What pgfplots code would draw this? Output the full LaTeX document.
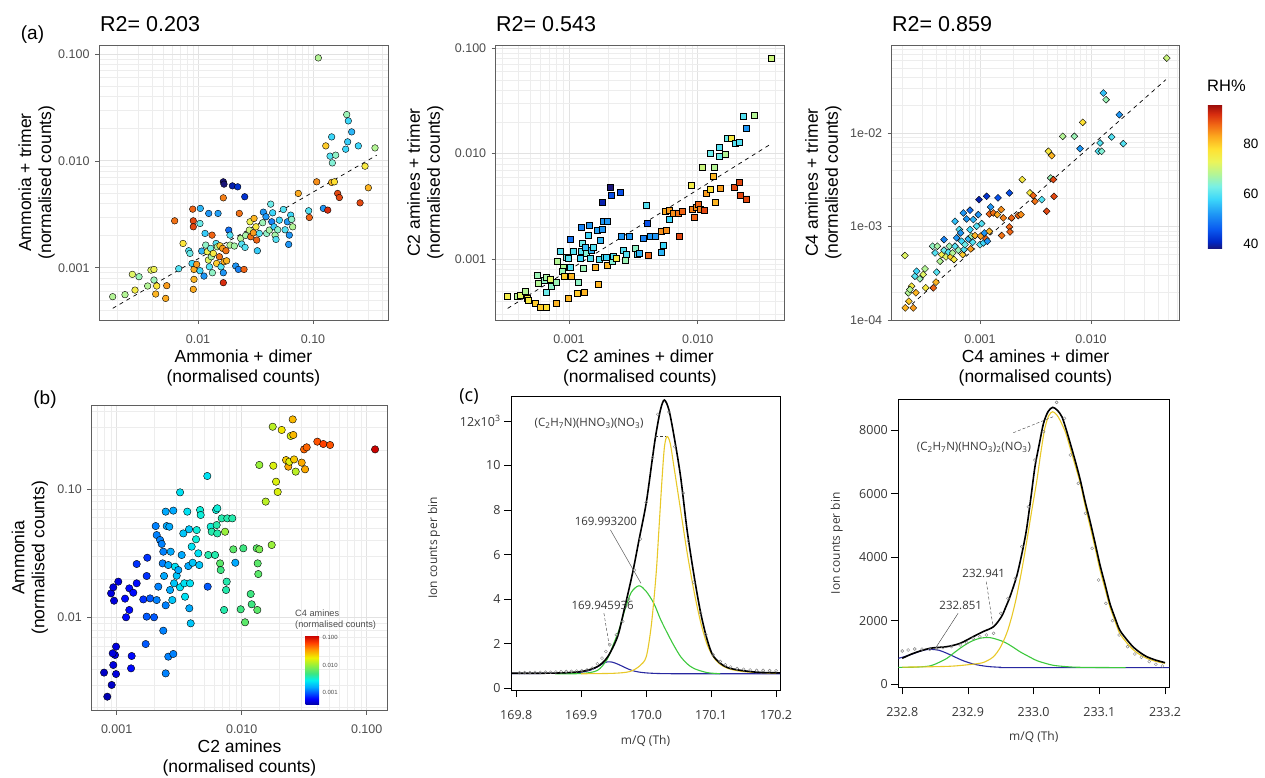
\documentclass[border=0pt]{standalone}
\usepackage{pgfplots}
\pgfplotsset{compat=1.18}
\usepackage{fontspec}
\setmainfont{Liberation Sans}
\newfontfamily\cfont{Open Sans}
\usetikzlibrary{calc}
\definecolor{ggborder}{RGB}{95,95,95}
\definecolor{gggrid}{RGB}{226,226,226}
\definecolor{ggminor}{RGB}{237,237,237}
\definecolor{ggtick}{RGB}{77,77,77}
\definecolor{ctext}{RGB}{55,55,55}
\definecolor{cyellow}{RGB}{232,200,40}
\definecolor{cgreen}{RGB}{60,200,60}
\definecolor{cblue}{RGB}{40,40,160}
\tikzset{ann/.style={font=\cfont\fontsize{11.5}{13}\selectfont, text=ctext, inner sep=0pt}}
\pgfplotsset{
 colormap={rhmap}{rgb255(0pt)=(25,20,120) rgb255(3pt)=(0,40,200) rgb255(8pt)=(10,90,240) rgb255(14pt)=(30,150,245) rgb255(20pt)=(60,215,250) rgb255(25pt)=(120,240,230) rgb255(30pt)=(180,245,150) rgb255(35pt)=(235,245,90) rgb255(40pt)=(255,225,50) rgb255(45pt)=(252,170,30) rgb255(50pt)=(240,100,20) rgb255(54pt)=(215,45,15) rgb255(58pt)=(150,10,10)},
 colormap={jetb}{rgb255(0pt)=(0,0,170) rgb255(8pt)=(0,0,255) rgb255(25pt)=(0,170,255) rgb255(35pt)=(0,240,240) rgb255(45pt)=(60,230,130) rgb255(57pt)=(150,240,60) rgb255(68pt)=(240,240,0) rgb255(80pt)=(255,150,0) rgb255(90pt)=(255,60,0) rgb255(100pt)=(200,0,0)},
 gg/.style={scale only axis, anchor=south west,
  axis line style={draw=ggborder, line width=0.6pt},
  grid=both,
  major grid style={draw=gggrid, line width=0.7pt},
  minor grid style={draw=ggminor, line width=0.45pt},
  tick align=outside, major tick length=4pt, minor tick length=0pt,
  tick style={draw=ggborder, line width=0.6pt},
  xtick pos=left, ytick pos=left,
  minor xtick={-4.699,-4.523,-4.398,-4.301,-4.222,-4.155,-4.097,-4.046,-3.699,-3.523,-3.398,-3.301,-3.222,-3.155,-3.097,-3.046,-2.699,-2.523,-2.398,-2.301,-2.222,-2.155,-2.097,-2.046,-1.699,-1.523,-1.398,-1.301,-1.222,-1.155,-1.097,-1.046,-0.699,-0.523,-0.398,-0.301,-0.222,-0.155,-0.097,-0.046},
  minor ytick={-4.699,-4.523,-4.398,-4.301,-4.222,-4.155,-4.097,-4.046,-3.699,-3.523,-3.398,-3.301,-3.222,-3.155,-3.097,-3.046,-2.699,-2.523,-2.398,-2.301,-2.222,-2.155,-2.097,-2.046,-1.699,-1.523,-1.398,-1.301,-1.222,-1.155,-1.097,-1.046,-0.699,-0.523,-0.398,-0.301,-0.222,-0.155,-0.097,-0.046},
  ticklabel style={font=\fontsize{12.5}{14}\selectfont, text=ggtick},
  xticklabel style={yshift=-7pt},
  yticklabel style={xshift=-2pt},
  label style={font=\fontsize{17.5}{20}\selectfont, align=center, inner sep=0pt},
  xlabel style={anchor=north},
  ylabel style={anchor=south},
  point meta min=38, point meta max=96, colormap name=rhmap},
 cp/.style={scale only axis, anchor=south west,
  axis line style={draw=black, line width=0.8pt},
  tick align=outside, major tick length=7pt,
  xtick pos=left, ytick pos=left,
  tick style={draw=black, line width=0.6pt},
  ticklabel style={font=\cfont\fontsize{12.5}{14}\selectfont, text=ctext},
  xticklabel style={yshift=-10pt},
  label style={font=\cfont\fontsize{12}{14}\selectfont, text=ctext, inner sep=0pt, anchor=center}},
 scat/.style={scatter, only marks, scatter src=explicit, scatter/use mapped color={draw=black, fill=mapped color}, mark options={line width=0.4pt}},
 cbar/.style={grid=none, scale only axis, xtick=\empty, axis line style={draw=none}, tick style={draw=none}}
}
\begin{document}
\begin{tikzpicture}
\path[use as bounding box] (0pt,0pt) rectangle (1265pt,778pt);

% ---------------- (a) Ammonia ----------------
\begin{axis}[gg, name=a1, at={(99pt,458pt)}, width=289pt, height=275pt,
 xmin=-2.861, xmax=-0.348, ymin=-3.489, ymax=-0.916,
 xtick={-2,-1}, xticklabels={0.01,0.10}, ytick={-3,-2,-1}, yticklabels={0.001,0.010,0.100},
 xlabel={Ammonia + dimer\\(normalised counts)}, ylabel={Ammonia + trimer\\(normalised counts)},
 xlabel style={at={(axis description cs:0.5,-0.1091)}},
 ylabel style={at={(axis description cs:-0.1522,0.5)}}]
\addplot[scat, mark=*, mark size=3.3pt] table[meta=c] {
x y c
-2.742 -3.271 68
-2.635 -3.252 68
-2.571 -3.062 72
-2.513 -3.084 66
-2.548 -3.209 75
-2.438 -3.171 68
-2.409 -3.022 72
-2.383 -3.016 74
-2.383 -3.115 66
-2.359 -3.171 77
-2.368 -3.246 82
-2.281 -3.287 83
-2.272 -3.168 84
-2.203 -2.561 87
-2.168 -3.009 60
-2.081 -2.841 60
-2.130 -2.773 77
-2.070 -2.866 62
-2.046 -2.452 88
-2.041 -2.561 90
-2.041 -2.617 90
-2.035 -3.016 83
-2.035 -3.109 82
-2.041 -3.202 83
-2.052 -2.960 58
-2.012 -2.969 84
-1.983 -3.028 58
-1.983 -2.586 62
-1.980 -2.445 55
-1.968 -2.844 55
-1.948 -3.078 52
-1.939 -2.679 57
-1.933 -2.788 65
-1.919 -2.850 74
-1.910 -2.928 72
-1.901 -2.991 60
-1.907 -2.492 52
-1.890 -2.819 63
-1.878 -2.695 88
-1.884 -2.897 67
-1.875 -3.047 65
-1.867 -2.866 76
-1.843 -2.773 60
-1.838 -2.960 80
-1.832 -2.804 68
-1.826 -2.492 53
-1.814 -2.897 87
-1.809 -2.794 80
-1.800 -2.991 60
-1.786 -2.819 84
-1.780 -2.346 86
-1.780 -2.196 38
-1.774 -2.218 38
-1.774 -2.944 83
-1.780 -3.047 52
-1.780 -3.140 92
-1.757 -2.841 87
-1.751 -2.935 82
-1.733 -2.648 48
-1.722 -2.695 60
-1.722 -2.788 68
-1.701 -2.234 40
-1.684 -2.797 67
-1.672 -2.984 52
-1.655 -2.243 42
-1.649 -3.016 50
-1.641 -2.492 87
-1.629 -2.726 68
-1.620 -2.779 60
-1.600 -3.016 88
-1.594 -2.336 42
-1.591 -2.810 60
-1.586 -2.698 67
-1.554 -2.648 70
-1.548 -2.570 74
-1.542 -2.710 87
-1.519 -2.673 84
-1.513 -2.539 82
-1.496 -2.617 76
-1.490 -2.741 88
-1.484 -2.841 57
-1.467 -2.679 60
-1.438 -2.579 66
-1.432 -2.480 52
-1.409 -2.523 52
-1.403 -2.679 65
-1.380 -2.648 67
-1.368 -2.405 62
-1.359 -2.570 50
-1.351 -2.486 58
-1.339 -2.617 57
-1.330 -2.695 67
-1.322 -2.735 60
-1.307 -2.645 65
-1.293 -2.555 58
-1.258 -2.455 60
-1.243 -2.645 60
-1.223 -2.570 52
-1.206 -2.695 52
-1.194 -2.508 58
-1.186 -2.548 65
-1.177 -2.617 68
-1.212 -2.782 52
-1.128 -2.305 83
-1.038 -2.467 60
-1.032 -2.530 88
-0.968 -2.196 85
-0.954 -1.037 68
-0.910 -2.445 52
-0.872 -2.461 92
-0.889 -1.860 80
-0.852 -1.956 60
-0.838 -1.776 58
-0.832 -2.019 64
-0.838 -2.202 82
-0.803 -1.947 65
-0.814 -2.196 78
-0.786 -2.305 90
-0.771 -2.343 90
-0.707 -1.567 66
-0.693 -1.626 58
-0.664 -1.729 55
-0.699 -1.822 57
-0.716 -1.891 58
-0.606 -1.860 58
-0.591 -2.393 90
-0.548 -2.050 76
-0.519 -2.252 82
-0.461 -1.879 68
};
\addplot[black, line width=0.7pt, dash pattern=on 4pt off 4pt] coordinates {(-2.742,-3.38) (-0.446,-1.947)};
\end{axis}

% ---------------- (a) C2 amines ----------------
\begin{axis}[gg, name=a2, at={(495.7pt,458pt)}, width=288.6pt, height=275pt,
 xmin=-3.57, xmax=-1.327, ymin=-3.578, ymax=-0.97,
 xtick={-3,-2}, xticklabels={0.001,0.010}, ytick={-3,-2,-1}, yticklabels={0.001,0.010,0.100},
 xlabel={C2 amines + dimer\\(normalised counts)}, ylabel={C2 amines + trimer\\(normalised counts)},
 xlabel style={at={(axis description cs:0.5,-0.1091)}},
 ylabel style={at={(axis description cs:-0.1802,0.5)}}]
\addplot[scat, mark=square*, mark size=3pt] table[meta=c] {
x y c
-3.477 -3.357 75
-3.402 -3.357 68
-3.381 -3.341 72
-3.337 -3.303 68
-3.329 -3.373 76
-3.316 -3.389 76
-3.264 -3.420 80
-3.225 -3.452 80
-3.179 -3.458 78
-3.101 -3.420 82
-3.251 -3.152 66
-3.238 -3.231 68
-3.194 -3.199 65
-3.174 -3.174 67
-3.148 -3.193 72
-3.181 -3.310 62
-3.135 -3.256 65
-3.096 -3.215 66
-3.091 -3.025 68
-3.044 -3.073 68
-3.057 -3.120 66
-3.039 -3.167 80
-3.070 -2.930 60
-3.023 -2.987 62
-3.010 -2.994 60
-3.005 -3.373 82
-2.992 -3.073 60
-2.987 -3.161 82
-2.966 -2.930 60
-2.992 -2.814 48
-2.940 -3.325 80
-2.927 -3.215 65
-2.915 -2.994 58
-2.907 -2.930 60
-2.902 -2.694 50
-2.894 -2.852 62
-2.889 -3.088 66
-2.881 -3.319 82
-2.876 -2.889 56
-2.863 -2.946 64
-2.850 -2.773 58
-2.845 -2.678 52
-2.832 -2.994 60
-2.824 -2.915 55
-2.811 -2.883 60
-2.798 -3.073 82
-2.785 -2.725 53
-2.772 -3.237 82
-2.767 -2.997 60
-2.759 -2.820 55
-2.746 -2.719 52
-2.741 -2.457 40
-2.728 -2.978 60
-2.715 -2.984 58
-2.707 -3.057 82
-2.733 -2.637 52
-2.702 -2.637 52
-2.681 -2.321 38
-2.676 -2.393 45
-2.661 -3.016 64
-2.655 -2.972 60
-2.630 -2.994 76
-2.604 -2.362 45
-2.591 -2.782 52
-2.583 -2.915 60
-2.565 -3.009 66
-2.552 -2.956 60
-2.531 -2.788 52
-2.487 -2.899 65
-2.474 -2.953 58
-2.453 -2.946 55
-2.422 -2.804 50
-2.402 -2.491 60
-2.396 -2.656 45
-2.383 -2.962 88
-2.370 -2.782 52
-2.332 -2.788 52
-2.285 -2.937 55
-2.280 -2.735 85
-2.267 -2.867 58
-2.249 -2.542 83
-2.246 -2.725 85
-2.225 -2.624 58
-2.220 -2.536 84
-2.189 -2.561 85
-2.142 -2.788 90
-2.150 -2.561 87
-2.117 -2.542 88
-2.054 -2.299 75
-2.039 -2.529 86
-2.028 -2.605 88
-2.008 -2.510 85
-1.995 -2.482 88
-1.982 -2.529 86
-1.969 -2.131 70
-1.951 -2.536 90
-1.935 -2.371 84
-1.904 -1.992 62
-1.904 -2.340 78
-1.883 -2.213 82
-1.873 -2.125 68
-1.865 -2.457 82
-1.832 -1.942 60
-1.832 -2.024 62
-1.826 -2.330 84
-1.788 -2.005 68
-1.767 -1.856 62
-1.736 -1.856 76
-1.710 -1.904 60
-1.715 -2.321 90
-1.676 -1.894 60
-1.676 -2.267 90
-1.671 -2.393 90
-1.645 -1.641 60
-1.627 -1.761 52
-1.624 -2.431 90
-1.560 -1.635 68
-1.430 -1.098 70
};
\addplot[black, line width=0.7pt, dash pattern=on 4pt off 4pt] coordinates {(-3.477,-3.468) (-1.425,-1.904)};
\end{axis}

% ---------------- (a) C4 amines ----------------
\begin{axis}[gg, name=a3, at={(891.7pt,458pt)}, width=287.6pt, height=275pt,
 xmin=-3.795, xmax=-1.205, ymin=-4.0, ymax=-1.056,
 xtick={-3,-2}, xticklabels={0.001,0.010}, ytick={-4,-3,-2}, yticklabels={1e-04,1e-03,1e-02},
 xlabel={C4 amines + dimer\\(normalised counts)}, ylabel={C4 amines + trimer\\(normalised counts)},
 xlabel style={at={(axis description cs:0.5,-0.1091)}},
 ylabel style={at={(axis description cs:-0.1739,0.5)}},
 colorbar,
 colorbar style={cbar, at={($(parent axis.south east)+(20pt,71pt)$)}, anchor=south west,
   width=29pt, height=145pt, ytick={40,60,80}, yticklabels={40,60,80},
   yticklabel style={font=\fontsize{13.5}{15}\selectfont, text=black, xshift=3pt}}]
\addplot[scat, mark=square*, mark size=2.45pt, mark options={rotate=45, line width=0.4pt}] table[meta=c] {
x y c
-3.676 -3.310 72
-3.673 -3.870 82
-3.601 -3.870 84
-3.640 -3.799 80
-3.646 -3.709 68
-3.616 -3.638 76
-3.631 -3.674 68
-3.577 -3.709 82
-3.586 -3.531 60
-3.571 -3.478 58
-3.541 -3.560 66
-3.511 -3.513 72
-3.495 -3.453 68
-3.489 -3.656 76
-3.420 -3.656 88
-3.396 -3.595 82
-3.426 -3.210 65
-3.405 -3.282 60
-3.384 -3.210 67
-3.390 -3.488 60
-3.360 -3.371 68
-3.345 -3.300 75
-3.324 -3.253 62
-3.324 -3.139 50
-3.306 -3.324 72
-3.285 -3.275 60
-3.276 -3.210 66
-3.264 -3.324 80
-3.246 -3.282 68
-3.234 -3.353 76
-3.225 -3.210 60
-3.225 -2.943 56
-3.210 -3.121 52
-3.195 -3.253 66
-3.186 -3.032 60
-3.174 -3.068 52
-3.165 -3.157 58
-3.156 -3.300 80
-3.150 -2.854 52
-3.144 -3.246 60
-3.135 -3.193 62
-3.120 -2.918 52
-3.105 -3.132 55
-3.090 -2.825 48
-3.090 -3.032 58
-3.084 -3.239 84
-3.075 -3.103 66
-3.066 -3.168 60
-3.060 -2.925 55
-3.045 -3.096 82
-3.030 -2.996 60
-3.015 -2.872 52
-3.009 -2.711 40
-3.000 -3.193 60
-2.994 -3.103 84
-2.985 -2.968 60
-2.970 -3.175 58
-2.961 -3.068 52
-2.946 -3.132 88
-2.940 -2.676 42
-2.934 -3.157 52
-2.916 -3.050 82
-2.916 -2.865 88
-2.904 -2.790 52
-2.880 -2.854 87
-2.838 -2.693 45
-2.844 -2.872 83
-2.808 -2.818 85
-2.805 -3.096 87
-2.790 -2.907 86
-2.736 -2.640 45
-2.736 -3.004 88
-2.730 -3.057 88
-2.715 -2.907 88
-2.655 -2.882 88
-2.631 -2.872 85
-2.619 -2.497 76
-2.550 -2.640 76
-2.520 -2.668 88
-2.505 -2.729 87
-2.444 -2.711 60
-2.399 -2.836 90
-2.384 -2.194 76
-2.354 -2.241 82
-2.363 -2.480 66
-2.339 -2.497 90
-2.333 -2.676 90
-2.255 -2.034 68
-2.150 -2.034 66
-2.099 -2.166 52
-2.075 -1.884 78
-1.934 -2.194 60
-1.919 -2.105 60
-1.904 -2.194 64
-1.889 -1.570 56
-1.865 -1.642 66
-1.814 -2.041 60
-1.745 -1.802 52
-1.709 -2.112 60
-1.318 -1.196 70
};
\addplot[black, line width=0.7pt, dash pattern=on 4pt off 4pt] coordinates {(-3.667,-3.888) (-1.327,-1.428)};
\end{axis}

% ---------------- (b) ----------------
\begin{axis}[gg, name=b, at={(91.3pt,67.3pt)}, width=296.4pt, height=305.7pt,
 xmin=-3.203, xmax=-0.832, ymin=-2.723, ymax=-0.347,
 xtick={-3,-2,-1}, xticklabels={0.001,0.010,0.100}, ytick={-2,-1}, yticklabels={0.01,0.10},
 xlabel={C2 amines\\(normalised counts)}, ylabel={Ammonia\\(normalised counts)},
 xlabel style={at={(axis description cs:0.5,-0.0958)}},
 ylabel style={at={(axis description cs:-0.1451,0.5)}},
 colormap name=jetb, point meta min=-3.42, point meta max=-0.94,
 colorbar,
 colorbar style={cbar, at={($(parent axis.south east)+(-90.5pt,6.4pt)$)}, anchor=south west,
   width=13.3pt, height=68.6pt, ytick={-3,-2,-1}, yticklabels={0.001,0.010,0.100},
   yticklabel style={font=\fontsize{6}{7}\selectfont, text=ggtick, xshift=0pt}}]
\addplot[scat, mark=*, mark size=3.7pt] table[meta=c] {
x y c
-3.075 -2.614 -3.40
-3.101 -2.427 -3.35
-3.040 -2.523 -3.35
-3.005 -2.438 -3.30
-3.027 -2.368 -3.30
-3.013 -2.290 -3.30
-3.032 -2.277 -3.30
-3.005 -2.225 -3.30
-2.880 -2.298 -3.20
-2.885 -2.394 -3.20
-2.768 -2.205 -3.00
-2.608 -2.433 -2.90
-2.587 -2.303 -2.90
-2.547 -2.282 -2.90
-2.627 -2.101 -2.90
-3.045 -1.811 -3.30
-3.027 -1.764 -3.30
-2.987 -1.720 -3.30
-3.021 -1.868 -3.30
-2.933 -1.852 -3.20
-2.899 -1.772 -3.20
-2.867 -1.806 -3.20
-2.840 -1.733 -3.20
-2.925 -1.997 -3.20
-2.899 -1.940 -3.20
-2.840 -1.583 -3.10
-2.755 -1.534 -3.10
-2.787 -1.858 -3.10
-2.760 -1.676 -3.10
-2.760 -1.992 -3.00
-2.733 -1.850 -3.00
-2.701 -1.997 -3.00
-2.688 -1.288 -2.90
-2.680 -1.358 -2.90
-2.680 -1.863 -2.90
-2.667 -1.759 -2.90
-2.653 -1.396 -2.90
-2.640 -1.427 -2.90
-2.632 -1.578 -2.90
-2.627 -1.487 -2.90
-2.621 -1.676 -2.80
-2.608 -1.176 -2.80
-2.608 -1.904 -2.90
-2.600 -1.288 -2.80
-2.587 -1.591 -2.80
-2.579 -1.293 -2.80
-2.573 -1.785 -2.80
-2.568 -1.487 -2.80
-2.555 -1.863 -2.70
-2.547 -1.168 -2.80
-2.541 -1.733 -2.70
-2.533 -1.604 -2.60
-2.520 -1.674 -2.70
-2.507 -1.630 -2.80
-2.493 -1.764 -2.60
-2.493 -1.026 -2.60
-2.480 -1.513 -2.80
-2.467 -1.345 -2.70
-2.459 -1.733 -2.60
-2.453 -1.837 -2.60
-2.435 -1.176 -2.60
-2.427 -1.599 -2.80
-2.421 -1.313 -2.70
-2.419 -1.927 -2.80
-2.408 -2.044 -2.70
-2.413 -1.733 -2.60
-2.400 -1.448 -2.60
-2.392 -1.573 -2.70
-2.365 -1.391 -2.50
-2.360 -1.319 -2.50
-2.347 -1.500 -2.60
-2.339 -1.591 -2.70
-2.333 -1.163 -2.50
-2.328 -1.202 -2.50
-2.275 -0.899 -2.60
-2.272 -1.759 -3.00
-2.267 -1.513 -2.40
-2.248 -1.293 -2.50
-2.240 -1.332 -2.40
-2.213 -1.513 -2.40
-2.205 -1.163 -2.50
-2.200 -1.280 -2.40
-2.195 -1.345 -2.40
-2.195 -1.150 -2.50
-2.173 -1.578 -2.20
-2.168 -1.630 -2.30
-2.160 -1.228 -2.40
-2.141 -1.940 -2.40
-2.133 -1.332 -2.00
-2.125 -1.785 -2.40
-2.120 -1.720 -2.40
-2.115 -1.228 -2.40
-2.075 -1.228 -2.40
-2.067 -1.469 -2.20
-2.051 -1.573 -2.80
-2.008 -1.935 -2.30
-1.987 -1.461 -2.30
-1.973 -2.036 -2.20
-1.928 -1.816 -2.30
-1.920 -1.896 -2.30
-1.875 -1.940 -2.20
-1.880 -1.461 -2.20
-1.872 -1.578 -2.20
-1.867 -1.661 -2.20
-1.859 -0.813 -2.00
-1.859 -1.469 -2.10
-1.808 -1.098 -1.90
-1.760 -1.435 -2.00
-1.752 -0.516 -1.90
-1.747 -0.819 -1.80
-1.725 -0.943 -1.80
-1.712 -1.023 -1.80
-1.680 -0.541 -1.70
-1.645 -0.775 -1.60
-1.627 -0.826 -1.50
-1.619 -0.788 -1.80
-1.608 -0.588 -1.80
-1.592 -0.459 -1.55
-1.587 -0.580 -1.55
-1.581 -0.770 -1.60
-1.568 -0.865 -1.90
-1.520 -0.795 -1.50
-1.501 -0.692 -1.30
-1.493 -0.847 -1.50
-1.480 -0.676 -1.30
-1.395 -0.632 -1.25
-1.347 -0.650 -1.20
-1.293 -0.658 -1.25
-0.933 -0.692 -0.95
};
\end{axis}

% ---------------- (c) left ----------------
\begin{axis}[cp, name=c1, at={(511pt,88pt)}, width=269pt, height=293.3pt,
 xmin=169.792, xmax=170.206, ymin=-0.08, ymax=13.09,
 xtick={169.8,169.9,170.0,170.1,170.2}, xticklabels={169.8,169.9,170.0,170.1,170.2},
 ytick={0,2,4,6,8,10,12}, yticklabels={0,2,4,6,8,10,12x10\textsuperscript{3}},
 xlabel={m/Q (Th)}, ylabel={Ion counts per bin},
 xlabel style={at={(axis description cs:0.5,-0.174)}},
 ylabel style={at={(axis description cs:-0.2862,0.484)}}]
\addplot[cblue, line width=1.1pt, smooth] coordinates {(169.792,0.66) (169.87,0.67) (169.90,0.72) (169.915,0.82) (169.925,0.96) (169.933,1.1) (169.94,1.18) (169.948,1.17) (169.958,1.06) (169.968,0.92) (169.978,0.8) (169.99,0.72) (170.01,0.67) (170.05,0.65) (170.206,0.65)};
\addplot[cgreen, line width=1.1pt, smooth] coordinates {(169.86,0.65) (169.90,0.66) (169.925,0.8) (169.94,1.3) (169.95,2.0) (169.958,2.6) (169.967,3.5) (169.977,4.3) (169.989,4.6) (170.0,4.35) (170.012,3.8) (170.022,3.1) (170.033,2.45) (170.043,1.9) (170.053,1.42) (170.063,1.1) (170.074,0.88) (170.094,0.7) (170.114,0.65)};
\addplot[cyellow, line width=1.1pt, smooth] coordinates {(169.9,0.65) (169.95,0.67) (169.975,0.75) (169.99,1.0) (170.0,1.4) (170.007,2.6) (170.012,4.0) (170.016,5.4) (170.02,7.3) (170.024,9.2) (170.028,10.8) (170.032,11.3) (170.037,11.0) (170.043,9.9) (170.053,8.0) (170.063,6.1) (170.074,4.3) (170.084,2.95) (170.094,1.95) (170.104,1.38) (170.115,1.05) (170.13,0.85) (170.155,0.73) (170.2,0.67)};
\addplot[black, line width=1.6pt, smooth] coordinates {(169.792,0.67) (169.86,0.68) (169.9,0.75) (169.925,0.97) (169.941,1.42) (169.956,2.32) (169.966,3.5) (169.979,5.16) (169.989,6.66) (170.0,8.3) (170.01,10.4) (170.015,11.4) (170.022,12.5) (170.028,12.94) (170.035,12.5) (170.043,11.3) (170.053,9.5) (170.063,7.1) (170.074,5.0) (170.084,3.37) (170.094,2.17) (170.104,1.42) (170.125,0.93) (170.166,0.73) (170.206,0.69)};
\addplot[only marks, mark=o, mark size=1.5pt, draw=gray, mark options={line width=0.4pt}] coordinates {(169.805,0.70) (169.813,0.70) (169.821,0.70) (169.829,0.71) (169.837,0.71) (169.845,0.72) (169.853,0.72) (169.861,0.73) (169.869,0.74) (169.877,0.75) (169.885,0.76) (169.893,0.77) (169.901,0.79) (169.909,0.82) (169.917,0.9) (169.925,1.1) (169.932,1.35) (169.938,1.65) (169.944,1.95) (169.954,2.4) (169.964,3.0) (169.973,4.0) (169.982,5.3) (169.991,6.7) (170.0,8.34) (170.01,10.36) (170.018,12.3) (170.035,12.4) (170.044,10.85) (170.057,8.76) (170.065,6.6) (170.073,4.76) (170.084,3.37) (170.092,2.4) (170.103,1.5) (170.114,1.2) (170.122,1.05) (170.13,0.95) (170.14,0.88) (170.15,0.85) (170.16,0.82) (170.17,0.8) (170.18,0.8) (170.19,0.79) (170.2,0.78)};
\node[ann, anchor=west] at (axis cs:169.828,11.91) {(C\textsubscript{2}H\textsubscript{7}N)(HNO\textsubscript{3})(NO\textsubscript{3})};
\draw[densely dashed, line width=0.4pt, ctext] (axis cs:170.014,11.33) -- (axis cs:170.031,11.33);
\node[ann] at (axis cs:169.938,7.47) {169.993200};
\draw[line width=0.4pt, ctext] (axis cs:169.945,7.11) -- (axis cs:169.992,4.71);
\node[ann] at (axis cs:169.933,3.71) {169.945936};
\draw[densely dashed, line width=0.4pt, ctext] (axis cs:169.935,3.37) -- (axis cs:169.943,1.94);
\end{axis}

% ---------------- (c) right ----------------
\begin{axis}[cp, name=c2, at={(898.3pt,90.7pt)}, width=271pt, height=288pt,
 xmin=232.794, xmax=233.2065, ymin=-94, ymax=8965,
 xtick={232.8,232.9,233.0,233.1,233.2}, xticklabels={232.8,232.9,233.0,233.1,233.2},
 ytick={0,2000,4000,6000,8000}, yticklabels={0,2000,4000,6000,8000},
 xlabel={m/Q (Th)}, ylabel={Ion counts per bin},
 xlabel style={at={(axis description cs:0.5,-0.1726)}},
 ylabel style={at={(axis description cs:-0.2273,0.5)}}]
\addplot[cblue, line width=1.1pt, smooth] coordinates {(232.794,820) (232.8,849) (232.815,950) (232.83,1060) (232.842,1100) (232.855,1075) (232.868,975) (232.88,860) (232.893,740) (232.908,640) (232.92,590) (232.933,555) (232.95,535) (232.969,524) (233.2065,524)};
\addplot[cgreen, line width=1.1pt, smooth] coordinates {(232.794,533) (232.82,540) (232.842,577) (232.855,680) (232.868,818) (232.88,1010) (232.893,1205) (232.905,1350) (232.918,1447) (232.934,1467) (232.954,1342) (232.967,1190) (232.979,1027) (232.992,880) (233.005,744) (233.018,660) (233.03,597) (233.05,555) (233.071,535) (233.14,524)};
\addplot[cyellow, line width=1.1pt, smooth] coordinates {(232.8,540) (232.85,555) (232.88,577) (232.918,660) (232.93,750) (232.939,870) (232.949,1150) (232.959,1604) (232.967,2150) (232.974,2757) (232.982,3600) (232.989,4434) (232.997,5450) (233.005,6426) (233.011,7300) (233.017,8050) (233.023,8450) (233.029,8574) (233.035,8480) (233.04,8312) (233.048,7950) (233.055,7474) (233.063,6900) (233.071,6321) (233.078,5650) (233.086,4958) (233.094,4250) (233.101,3595) (233.109,2980) (233.116,2442) (233.124,1980) (233.131,1604) (233.142,1300) (233.152,1080) (233.162,930) (233.172,818) (233.186,720) (233.2,660)};
\addplot[black, line width=1.6pt, smooth] coordinates {(232.8,818) (232.817,975) (232.842,1132) (232.868,1184) (232.888,1289) (232.908,1499) (232.923,1656) (232.939,1813) (232.951,2128) (232.958,2450) (232.964,2757) (232.974,3386) (232.982,4100) (232.989,4853) (232.996,5900) (233.002,6845) (233.009,7600) (233.015,8208) (233.022,8580) (233.029,8711) (233.036,8620) (233.043,8417) (233.049,8050) (233.055,7631) (233.063,7050) (233.071,6426) (233.078,5780) (233.086,5115) (233.094,4400) (233.101,3753) (233.109,3120) (233.116,2547) (233.124,2080) (233.131,1709) (233.142,1400) (233.152,1164) (233.162,1000) (233.172,870) (233.186,760) (233.2,681)};
\addplot[only marks, mark=o, mark size=1.5pt, draw=gray, mark options={line width=0.4pt}] coordinates {(232.8,1048) (232.809,1080) (232.819,1111) (232.83,1105) (232.842,1100) (232.852,1121) (232.862,1153) (232.875,1184) (232.888,1237) (232.898,1310) (232.908,1447) (232.918,1499) (232.928,1551) (232.939,1604) (232.95,2233) (232.961,2704) (232.972,3333) (232.982,4329) (232.992,5587) (233.002,7055) (233.015,7945) (233.035,8868) (233.047,8365) (233.056,7212) (233.068,6321) (233.079,5377) (233.089,4277) (233.099,3281) (233.11,2547) (233.12,2002) (233.13,1551) (233.143,1184) (233.154,954) (233.164,849) (233.176,713) (233.186,629) (233.196,577)};
\node[ann, anchor=west] at (axis cs:232.822,7460) {(C\textsubscript{2}H\textsubscript{7}N)(HNO\textsubscript{3})\textsubscript{2}(NO\textsubscript{3})};
\draw[densely dashed, line width=0.4pt, ctext] (axis cs:232.969,7912) -- (axis cs:233.032,8437);
\node[ann] at (axis cs:232.924,3491) {232.941};
\draw[densely dashed, line width=0.4pt, ctext] (axis cs:232.928,3226) -- (axis cs:232.938,1833);
\node[ann] at (axis cs:232.889,2472) {232.851};
\draw[line width=0.4pt, ctext] (axis cs:232.885,2233) -- (axis cs:232.852,1182);
\end{axis}

% ---------------- texts ----------------
\node[font=\fontsize{19}{22}\selectfont] at (32.5pt,743pt) {(a)};
\node[font=\fontsize{19}{22}\selectfont] at (45pt,378pt) {(b)};
\node[font=\cfont\fontsize{18}{22}\selectfont] at (469pt,381pt) {(c)};
\node[anchor=base west, inner sep=0pt, font=\fontsize{21.5}{24}\selectfont] at (100pt,746.3pt) {R2= 0.203};
\node[anchor=base west, inner sep=0pt, font=\fontsize{21.5}{24}\selectfont] at (496pt,746.3pt) {R2= 0.543};
\node[anchor=base west, inner sep=0pt, font=\fontsize{21.5}{24}\selectfont] at (892pt,746.3pt) {R2= 0.859};
\node[anchor=base west, inner sep=0pt, font=\fontsize{16.5}{18}\selectfont] at (1207pt,686.3pt) {RH\%};
\node[anchor=north west, align=left, inner sep=0pt, font=\fontsize{9.2}{10.5}\selectfont, text=ggtick] at (295pt,168pt) {C4 amines\\(normalised counts)};
\end{tikzpicture}
\end{document}
